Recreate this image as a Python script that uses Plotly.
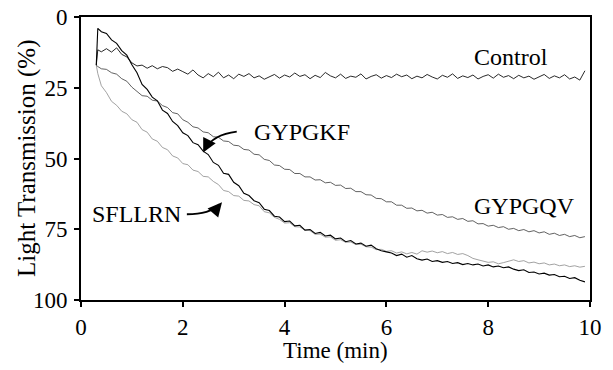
import plotly.graph_objects as go

# Time (min)
T = [0.30, 0.33, 0.4, 0.5, 0.6, 0.7, 0.8, 0.9,
     1.0, 1.1, 1.2, 1.3, 1.4, 1.5, 1.6, 1.7, 1.8, 1.9,
     2.0, 2.1, 2.2, 2.3, 2.4, 2.5, 2.6, 2.7, 2.8, 2.9,
     3.0, 3.1, 3.2, 3.3, 3.4, 3.5, 3.6, 3.7, 3.8, 3.9,
     4.0, 4.1, 4.2, 4.3, 4.4, 4.5, 4.6, 4.7, 4.8, 4.9,
     5.0, 5.1, 5.2, 5.3, 5.4, 5.5, 5.6, 5.7, 5.8, 5.9,
     6.0, 6.1, 6.2, 6.3, 6.4, 6.5, 6.6, 6.7, 6.8, 6.9,
     7.0, 7.1, 7.2, 7.3, 7.4, 7.5, 7.6, 7.7, 7.8, 7.9,
     8.0, 8.1, 8.2, 8.3, 8.4, 8.5, 8.6, 8.7, 8.8, 8.9,
     9.0, 9.1, 9.2, 9.3, 9.4, 9.5, 9.6, 9.7, 9.8, 9.9]

control = [17.0, 11.6, 12.3, 11.2, 12.4, 10.9, 13.2, 14.1,
           16.2, 17.3, 17.0, 18.1, 17.2, 18.3, 17.5, 17.9, 19.2, 18.4,
           19.3, 20.2, 18.7, 20.5, 21.5, 20.0, 21.1, 19.5, 21.5, 20.5,
           21.8, 20.2, 21.0, 20.0, 21.5, 20.8, 22.0, 21.0, 20.3, 21.6,
           20.5, 21.2, 19.8, 21.0, 20.4, 21.8, 20.6, 21.4, 19.6, 20.8,
           21.5, 20.2, 21.7, 20.9, 21.3, 20.1, 21.9, 21.0, 20.4, 21.6,
           20.7, 21.4, 20.2, 21.1, 20.5, 21.8, 20.9, 21.5, 20.3, 21.2,
           21.9, 20.6, 21.3, 20.1, 21.7, 20.8, 21.4, 20.5, 21.9, 21.0,
           20.4, 21.6, 20.2, 21.3, 20.7, 21.8, 20.6, 21.5, 20.9, 22.0,
           21.1, 20.3, 21.7, 20.8, 21.5, 20.4, 21.9, 21.2, 22.3, 19.0]

gypgkf = [17.0, 4.0, 5.2, 5.8, 8.1, 9.3, 11.9, 13.5,
          16.9, 19.7, 23.8, 25.6, 28.3, 29.6, 32.9, 34.1, 36.9, 38.4,
          40.9, 41.9, 44.4, 45.1, 47.4, 48.6, 51.4, 52.4, 55.2, 55.6,
          58.4, 59.6, 62.3, 63.1, 64.9, 65.6, 67.9, 68.4, 70.4, 70.7,
          72.3, 72.1, 73.8, 73.6, 75.3, 75.1, 76.5, 76.1, 77.4, 77.1,
          78.4, 78.1, 79.4, 79.0, 80.2, 79.9, 81.0, 80.6, 81.9, 82.6,
          83.0, 83.4, 84.3, 83.8, 84.9, 84.3, 85.4, 85.9, 85.5, 86.4,
          86.1, 86.7, 86.4, 87.1, 86.8, 87.5, 87.1, 87.6, 87.3, 88.0,
          87.6, 88.3, 88.0, 88.6, 88.3, 89.1, 89.6, 89.3, 90.3, 90.1,
          90.8, 90.5, 91.2, 91.0, 91.8, 91.6, 92.4, 92.1, 93.0, 93.6]

sfllrn = [17.0, 20.0, 24.3, 26.7, 29.8, 31.2, 33.3, 34.2,
          36.3, 37.2, 39.8, 40.7, 43.1, 43.9, 46.1, 46.9, 49.1, 49.8,
          51.8, 52.2, 54.1, 54.6, 56.3, 56.5, 58.1, 59.2, 61.3, 61.7,
          63.1, 63.3, 64.8, 65.0, 66.3, 66.7, 68.8, 69.2, 70.8, 71.5,
          72.8, 72.7, 74.1, 74.2, 75.3, 75.5, 76.8, 76.7, 77.8, 77.7,
          78.9, 78.7, 79.6, 79.5, 80.4, 80.3, 81.2, 81.3, 82.2, 82.1,
          82.8, 82.6, 83.4, 83.0, 83.7, 83.2, 83.8, 82.6, 83.1, 82.7,
          83.3, 82.9, 83.6, 83.2, 83.9, 83.6, 84.3, 85.3, 85.8, 86.2,
          86.7, 86.5, 87.2, 86.8, 86.2, 85.8, 86.4, 86.1, 86.9, 86.6,
          87.2, 86.9, 87.6, 87.3, 87.9, 87.6, 88.2, 87.9, 88.4, 88.1]

gypgqv = [17.0, 17.5, 18.3, 18.5, 19.7, 20.2, 21.8, 22.7,
          24.8, 26.3, 27.8, 28.0, 29.4, 29.7, 31.3, 32.0, 33.8, 34.2,
          36.3, 37.2, 38.8, 39.2, 40.6, 40.9, 42.3, 42.5, 43.8, 44.0,
          45.3, 45.5, 46.8, 47.0, 48.5, 48.7, 50.3, 50.7, 52.3, 52.5,
          53.8, 53.9, 55.3, 55.3, 56.5, 56.5, 57.6, 57.5, 58.6, 58.4,
          59.5, 59.4, 60.6, 60.5, 61.7, 61.7, 62.8, 62.9, 64.1, 64.2,
          65.3, 65.3, 66.5, 66.5, 67.6, 67.5, 68.5, 68.3, 69.3, 69.0,
          70.0, 69.8, 70.8, 70.6, 71.5, 71.2, 72.2, 72.0, 73.1, 73.0,
          73.9, 73.6, 74.4, 74.1, 75.0, 74.7, 75.5, 75.1, 75.9, 75.5,
          76.3, 75.9, 76.8, 76.4, 77.2, 76.8, 77.6, 77.2, 78.0, 77.6]

x_ticks = [0, 2, 4, 6, 8, 10]
y_ticks = [0, 25, 50, 75, 100]

FONT = "Times New Roman, Liberation Serif, DejaVu Serif, serif"

fig = go.Figure()
series = [
    ("SFLLRN", sfllrn, "#8a8a8a", 0.8),
    ("GYPGQV", gypgqv, "#3a3a3a", 0.8),
    ("Control", control, "#111111", 0.9),
    ("GYPGKF", gypgkf, "#000000", 1.1),
]
for name, vals, color, w in series:
    fig.add_trace(go.Scatter(x=T, y=vals, mode="lines", name=name,
                             line=dict(color=color, width=w), showlegend=False))

axis_common = dict(
    showline=True, linecolor="black", linewidth=2, mirror=True,
    ticks="outside", ticklen=5, tickwidth=1.5, tickcolor="black",
    showgrid=False, zeroline=False, automargin=False,
    tickfont=dict(family=FONT, size=23, color="black"),
)

fig.update_layout(
    width=613, height=370,
    margin=dict(l=81, r=23, t=17, b=70, autoexpand=False),
    plot_bgcolor="white", paper_bgcolor="white",
    font=dict(family=FONT, color="black"),
    xaxis=dict(range=[0, 10], tickvals=x_ticks, **axis_common),
    yaxis=dict(range=[100, 0], tickvals=y_ticks, ticklabelstandoff=2, **axis_common),
)

fig.add_annotation(xref="paper", yref="paper", x=0.5, y=-0.18, yanchor="middle",
                   text="Time (min)", showarrow=False,
                   font=dict(family=FONT, size=23, color="black"))
fig.add_annotation(xref="paper", yref="paper", x=-0.107, y=0.5, xanchor="center",
                   text="Light Transmission (%)", textangle=-90, showarrow=False,
                   font=dict(family=FONT, size=25, color="black"))

label_font = dict(family=FONT, size=24, color="black")
fig.add_annotation(x=8.45, y=14.1, text="Control", showarrow=False, font=label_font)
fig.add_annotation(x=8.72, y=66.9, text="GYPGQV", showarrow=False, font=label_font)
fig.add_annotation(x=4.34, y=40.5, text="GYPGKF", showarrow=False, font=label_font)
fig.add_annotation(x=1.1, y=69.7, text="SFLLRN", showarrow=False, font=label_font)

# curved arrows
fig.add_shape(type="path", xref="x", yref="y",
              path="M 3.06,40.5 Q 2.59,41.5 2.42,47.0",
              line=dict(color="black", width=2))
fig.add_annotation(x=2.40, y=47.9, ax=5, ay=-10, text="", showarrow=True,
                   arrowhead=2, arrowsize=1.4, arrowwidth=2, arrowcolor="black")
fig.add_shape(type="path", xref="x", yref="y",
              path="M 2.08,69.7 Q 2.53,69.7 2.72,66.2",
              line=dict(color="black", width=2))
fig.add_annotation(x=2.77, y=65.5, ax=-6, ay=7, text="", showarrow=True,
                   arrowhead=2, arrowsize=1.4, arrowwidth=2, arrowcolor="black")

fig.write_html("out.html", config={"displayModeBar": False},
               post_script="document.body.style.margin='0';document.body.style.overflow='hidden';")
